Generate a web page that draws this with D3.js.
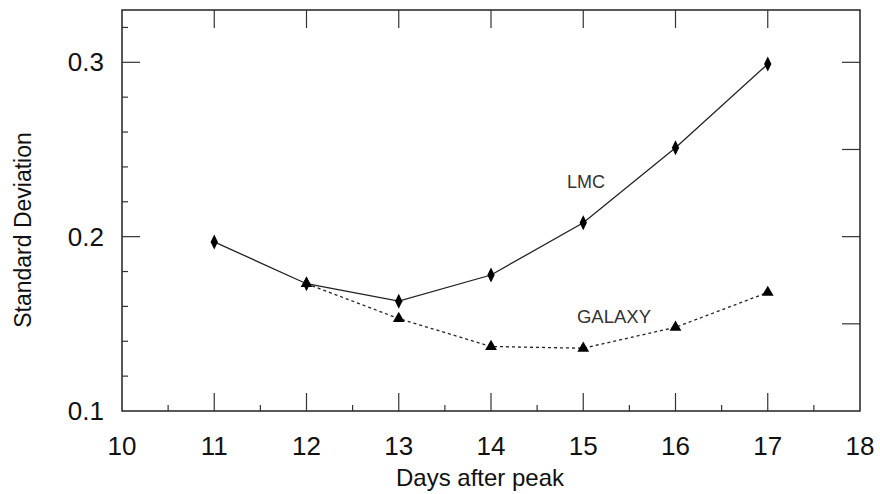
<!DOCTYPE html>
<html>
<head>
<meta charset="utf-8">
<script src="https://cdn.jsdelivr.net/npm/d3@7"></script>
<style>
  body { margin: 0; background: #fff; }
  text { font-family: "Liberation Sans", Arial, sans-serif; fill: #111; }
</style>
</head>
<body>
<div id="chart"></div>
<script>
var width = 880, height = 494
var margin = { top: 10, right: 20, bottom: 83, left: 122 }

// data
var days = [11, 12, 13, 14, 15, 16, 17]
var lmc = [0.197, 0.173, 0.163, 0.178, 0.208, 0.251, 0.299]
var galaxyDays = [12, 13, 14, 15, 16, 17]
var galaxy = [0.173, 0.153, 0.137, 0.136, 0.148, 0.168]
var xTicks = [10, 11, 12, 13, 14, 15, 16, 17, 18]
var yTicks = [0.1, 0.2, 0.3]

var svg = d3.select("#chart")
  .append("svg")
  .attr("width", width)
  .attr("height", height)

var xScale = d3.scaleLinear()
  .domain([10, 18])
  .range([margin.left, width - margin.right])

var yScale = d3.scaleLinear()
  .domain([0.1, 0.33])
  .range([height - margin.bottom, margin.top])

var x0 = margin.left, x1 = width - margin.right
var y0 = height - margin.bottom, y1 = margin.top

// frame
svg.append("rect")
  .attr("x", x0)
  .attr("y", y1)
  .attr("width", x1 - x0)
  .attr("height", y0 - y1)
  .attr("fill", "none")
  .attr("stroke", "#222")
  .attr("stroke-width", 1.5)

// bottom axis: major ticks + half-day minor ticks
var tickColor = "#333"
var minorX = d3.range(10.5, 18, 1)
svg.selectAll(".xmaj")
  .data(xTicks.slice(1, -1))
  .enter()
  .append("line")
  .attr("x1", d => xScale(d)).attr("x2", d => xScale(d))
  .attr("y1", y0).attr("y2", y0 - 18)
  .attr("stroke", tickColor).attr("stroke-width", 1.2)
svg.selectAll(".xmin")
  .data(minorX)
  .enter()
  .append("line")
  .attr("x1", d => xScale(d)).attr("x2", d => xScale(d))
  .attr("y1", y0).attr("y2", y0 - 6)
  .attr("stroke", tickColor).attr("stroke-width", 1.2)
// top axis
svg.selectAll(".xtop")
  .data(xTicks.slice(1, -1))
  .enter()
  .append("line")
  .attr("x1", d => xScale(d)).attr("x2", d => xScale(d))
  .attr("y1", y1).attr("y2", y1 + 18)
  .attr("stroke", tickColor).attr("stroke-width", 1.2)

svg.selectAll(".xlab")
  .data(xTicks)
  .enter()
  .append("text")
  .attr("x", d => xScale(d))
  .attr("y", y0 + 44)
  .attr("text-anchor", "middle")
  .attr("font-size", "26px")
  .text(d => d)

// left axis: major ticks and minor ticks every 0.02
var minorY = d3.range(0.12, 0.33, 0.02).filter(d => Math.abs(d * 10 - Math.round(d * 10)) > 1e-6)
svg.selectAll(".ymaj")
  .data(yTicks.slice(1))
  .enter()
  .append("line")
  .attr("x1", x0).attr("x2", x0 + 18)
  .attr("y1", d => yScale(d)).attr("y2", d => yScale(d))
  .attr("stroke", tickColor).attr("stroke-width", 1.2)
svg.selectAll(".ymin")
  .data(minorY)
  .enter()
  .append("line")
  .attr("x1", x0).attr("x2", x0 + 6)
  .attr("y1", d => yScale(d)).attr("y2", d => yScale(d))
  .attr("stroke", tickColor).attr("stroke-width", 1.2)
// right axis ticks every 0.05
svg.selectAll(".yright")
  .data([0.15, 0.2, 0.25, 0.3])
  .enter()
  .append("line")
  .attr("x1", x1).attr("x2", x1 - 18)
  .attr("y1", d => yScale(d)).attr("y2", d => yScale(d))
  .attr("stroke", tickColor).attr("stroke-width", 1.2)

svg.selectAll(".ylab")
  .data(yTicks)
  .enter()
  .append("text")
  .attr("x", 104)
  .attr("y", d => yScale(d) + 9)
  .attr("text-anchor", "end")
  .attr("font-size", "26px")
  .text(d => d.toFixed(1))

// axis titles
svg.append("text")
  .attr("x", 480)
  .attr("y", 486)
  .attr("text-anchor", "middle")
  .attr("font-size", "24px")
  .text("Days after peak")

svg.append("text")
  .attr("transform", "translate(31,230) rotate(-90)")
  .attr("text-anchor", "middle")
  .attr("font-size", "23px")
  .text("Standard Deviation")

// lines
var lmcData = days.map((d, i) => ({ x: d, y: lmc[i] }))
var galData = galaxyDays.map((d, i) => ({ x: d, y: galaxy[i] }))
var line = d3.line().x(d => xScale(d.x)).y(d => yScale(d.y))

svg.append("path")
  .datum(galData)
  .attr("d", line)
  .attr("fill", "none")
  .attr("stroke", "#222")
  .attr("stroke-width", 1.3)
  .attr("stroke-dasharray", "3,3")

svg.append("path")
  .datum(lmcData)
  .attr("d", line)
  .attr("fill", "none")
  .attr("stroke", "#222")
  .attr("stroke-width", 1.3)

// markers
svg.selectAll(".diamond")
  .data(lmcData)
  .enter()
  .append("path")
  .attr("d", d3.symbol(d3.symbolDiamond, 65))
  .attr("transform", d => `translate(${xScale(d.x)},${yScale(d.y)}) scale(0.85,1)`)
  .attr("fill", "#000")

svg.selectAll(".tri")
  .data(galData)
  .enter()
  .append("path")
  .attr("d", d3.symbol(d3.symbolTriangle, 60))
  .attr("transform", d => `translate(${xScale(d.x)},${yScale(d.y)})`)
  .attr("fill", "#000")

// series labels
svg.append("text")
  .attr("x", 586)
  .attr("y", 188)
  .attr("text-anchor", "middle")
  .attr("font-size", "18px")
  .style("fill", "#333")
  .text("LMC")

svg.append("text")
  .attr("x", 614)
  .attr("y", 323)
  .attr("text-anchor", "middle")
  .attr("font-size", "18.5px")
  .style("fill", "#333")
  .text("GALAXY")
</script>
</body>
</html>
